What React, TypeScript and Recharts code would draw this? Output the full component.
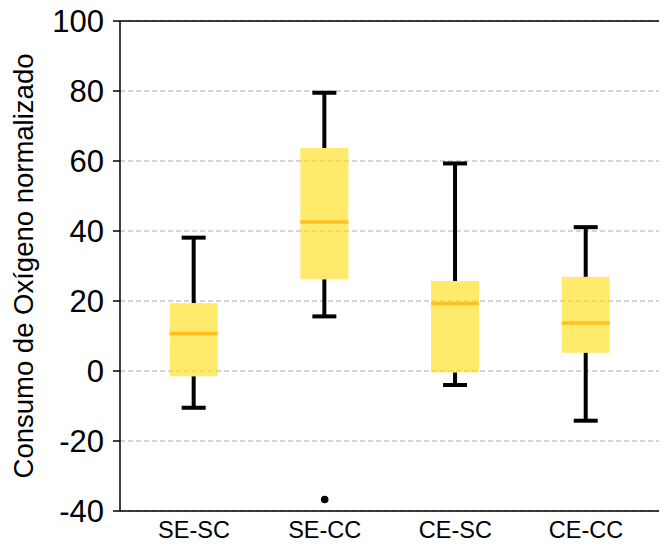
import React from 'react';
import { ComposedChart, Bar, Scatter, XAxis, YAxis, CartesianGrid, ReferenceLine } from 'recharts';

const categories = ['SE-SC', 'SE-CC', 'CE-SC', 'CE-CC'];
const whiskerLow = [-10.5, 15.6, -4.0, -14.2];
const q1Values = [-1.5, 26.2, -0.4, 5.2];
const medianValues = [10.7, 42.6, 19.3, 13.7];
const q3Values = [19.4, 63.7, 25.7, 26.9];
const whiskerHigh = [38.1, 79.5, 59.3, 41.1];
const outlierValues: (number | null)[] = [null, -36.7, null, null];
const yTicks = [-40, -20, 0, 20, 40, 60, 80, 100];

const FONT = '"Liberation Sans", Arial, sans-serif';

const data = categories.map((name, i) => ({
  name,
  low: whiskerLow[i],
  q1: q1Values[i],
  median: medianValues[i],
  q3: q3Values[i],
  high: whiskerHigh[i],
  outlier: outlierValues[i],
}));

const BoxShape = (props: any) => {
  const { x, y, width, height, payload } = props;
  if (!payload || x == null || y == null) return null;
  const top = Math.min(y, y + height);
  const bottom = Math.max(y, y + height);
  const span = payload.q3 - payload.q1;
  const ppu = (bottom - top) / span;
  const py = (v: number) => top + (payload.q3 - v) * ppu;
  const cx = x + width / 2;
  const capHalf = 12;
  const lw = 4;
  return (
    <g>
      <line x1={cx} x2={cx} y1={py(payload.high)} y2={top} stroke="#000" strokeWidth={lw} />
      <line x1={cx} x2={cx} y1={bottom} y2={py(payload.low)} stroke="#000" strokeWidth={lw} />
      <line x1={cx - capHalf} x2={cx + capHalf} y1={py(payload.high)} y2={py(payload.high)} stroke="#000" strokeWidth={lw} />
      <line x1={cx - capHalf} x2={cx + capHalf} y1={py(payload.low)} y2={py(payload.low)} stroke="#000" strokeWidth={lw} />
      <rect x={x} y={top} width={width} height={bottom - top} fill="#FFDD10" fillOpacity={0.62} />
      <line x1={x} x2={x + width} y1={py(payload.median)} y2={py(payload.median)} stroke="#FFC020" strokeWidth={3.5} />
    </g>
  );
};

const Dot = (p: any) => {
  if (!p.payload || p.payload.outlier == null || !Number.isFinite(p.cy)) return <g />;
  return <circle cx={p.cx} cy={p.cy} r={3.8} fill="#000" />;
};

export default function App() {
  return (
    <div style={{ fontFamily: FONT, marginTop: -8 }}>
      <ComposedChart
        width={659}
        height={545}
        data={data}
        margin={{ top: 21, right: 0, bottom: 0, left: 0 }}
        style={{ overflow: 'visible' }}
      >
        <CartesianGrid vertical={false} stroke="#aaaaaa" strokeDasharray="5 3" strokeWidth={1} />
        <XAxis
          dataKey="name"
          type="category"
          height={34}
          padding={{ left: 8.67, right: 15.6 }}
          tickLine={false}
          tickSize={0}
          tickMargin={10}
          axisLine={{ stroke: '#000', strokeWidth: 1.5 }}
          tick={{ fill: '#000', fontSize: 23.5, fontFamily: FONT }}
        />
        <YAxis
          type="number"
          domain={[-40, 100]}
          ticks={yTicks}
          interval={0}
          width={112}
          tickSize={7}
          tickMargin={9}
          axisLine={{ stroke: '#000', strokeWidth: 1.5 }}
          tickLine={{ stroke: '#000', strokeWidth: 1.5 }}
          tick={{ fill: '#000', fontSize: 31, fontFamily: FONT }}
          label={{
            value: 'Consumo de Oxígeno normalizado',
            angle: -90,
            position: 'insideLeft',
            offset: 15,
            style: { textAnchor: 'middle', fontSize: 27.5, fontFamily: FONT, fill: '#000' },
          }}
        />
        <ReferenceLine y={100} stroke="#000" strokeWidth={1.5} />
        <Bar
          dataKey={(d: any) => [d.q1, d.q3]}
          barSize={48}
          shape={BoxShape}
          isAnimationActive={false}
        />
        <Scatter dataKey="outlier" shape={Dot} isAnimationActive={false} />
      </ComposedChart>
    </div>
  );
}
